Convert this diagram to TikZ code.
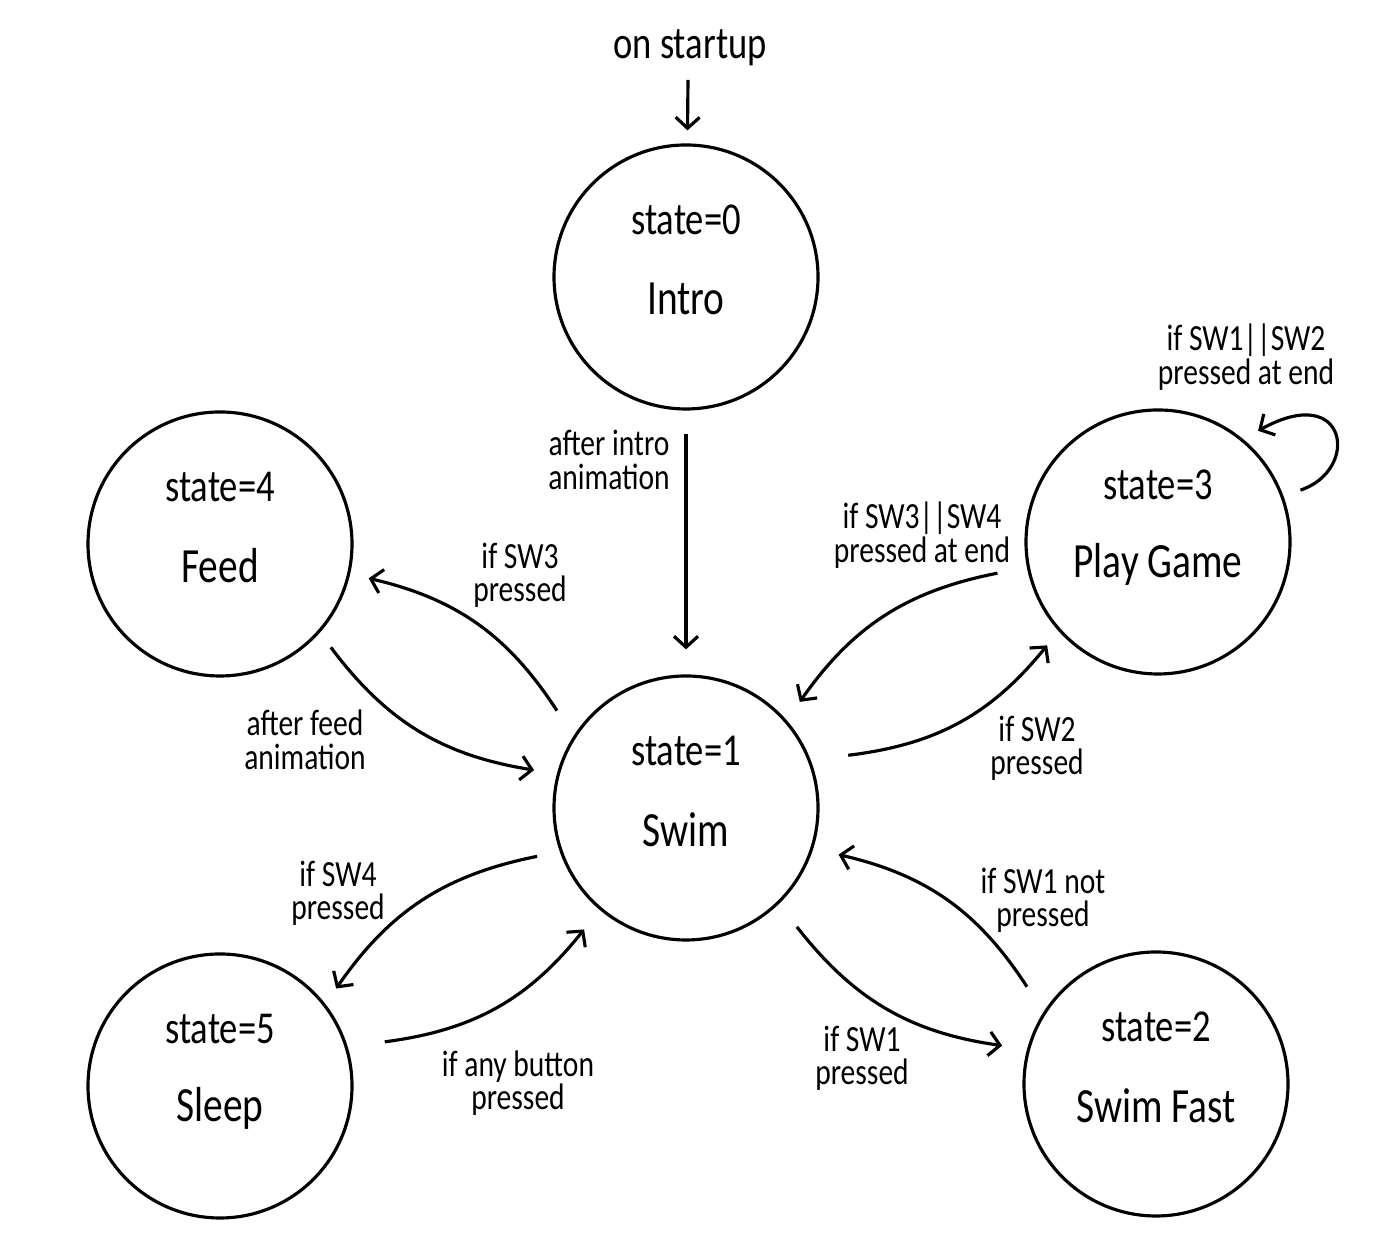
\documentclass[tikz,border=0pt]{standalone}
\usepackage{fontspec}
\setmainfont{Carlito}[FakeStretch=0.8]
\usetikzlibrary{arrows.meta}

\begin{document}
\begin{tikzpicture}[
    fsm/.style={circle, draw, line width=0.9pt, minimum size=2.64cm, inner sep=0pt},
    tr/.style={line width=0.9pt, -{Straight Barb[length=1.1mm, width=2.4mm]}},
    lbl/.style={align=center, inner sep=0pt, font=\fontsize{10.5}{9.5}\selectfont},
    num/.style={font=\fontsize{13}{13}\selectfont},
    big/.style={font=\fontsize{14}{14}\selectfont}
]
    \useasboundingbox (0,0) rectangle (13.77,12.54);

    % the six states
    \node[fsm] (intro) at (6.86,9.77) {};
    \node[fsm] (feed)  at (2.20,7.10) {};
    \node[fsm] (play)  at (11.58,7.12) {};
    \node[fsm] (swim)  at (6.86,4.46) {};
    \node[fsm] (sleep) at (2.20,1.68) {};
    \node[fsm] (fast)  at (11.56,1.70) {};

    \foreach \s/\n/\t in {intro/0/Intro, feed/4/Feed, play/3/Play Game,
                          swim/1/Swim, sleep/5/Sleep, fast/2/Swim Fast}
    {
        \node[num] (\s-num)  at ([yshift=0.57cm]\s) {state=\n};
        \node[big] (\s-name) at ([yshift=-0.22cm]\s) {\t};
    }

    % entry
    \node[lbl, font=\fontsize{13}{13}\selectfont] (boot) at (6.90,12.06) {on startup};
    \coordinate (bootend) at (6.88,11.74);
    \draw[tr, shorten >=0.13cm] (bootend) -- (intro);

    % intro -> swim
    \draw[tr, shorten <=0.23cm, shorten >=0.25cm] (intro) -- (swim);
    \node[lbl] (l-intro) at (6.09,7.94) {after intro\\animation};

    % swim <-> feed
    \draw[tr, bend right=22] ([shift={(143:0.28)}]swim.143) to ([shift={(-13:0.19)}]feed.-13);
    \node[lbl] (l-sw3) at (5.20,6.79) {if SW3\\pressed};
    \draw[tr, bend right=22] ([shift={(-43:0.18)}]feed.-43) to ([shift={(166:0.23)}]swim.166);
    \node[lbl] (l-feed) at (3.05,5.14) {after feed\\animation};

    % swim <-> play
    \draw[tr, bend right=22] ([shift={(191:0.30)}]play.191) to ([shift={(43:0.22)}]swim.43);
    \node[lbl] (l-sw34) at (9.22,7.19) {if SW3||SW4\\pressed at end};
    \draw[tr, bend right=22] ([shift={(18:0.37)}]swim.18) to ([shift={(223:0.18)}]play.223);
    \node[lbl] (l-sw2) at (10.37,5.06) {if SW2\\pressed};

    % play game again
    \draw[tr] ([shift={(20:0.18)}]play.20) .. controls +(0.6,0.2) and +(0.9,0.5) .. ([shift={(48:0.16)}]play.48);
    \node[lbl] (l-sw12) at (12.46,8.97) {if SW1||SW2\\pressed at end};

    % swim <-> sleep
    \draw[tr, bend right=22] ([shift={(198:0.23)}]swim.198) to ([shift={(40:0.18)}]sleep.40);
    \node[lbl] (l-sw4) at (3.38,3.61) {if SW4\\pressed};
    \draw[tr, bend right=22] ([shift={(15:0.37)}]sleep.15) to ([shift={(230:0.25)}]swim.230);
    \node[lbl] (l-any) at (5.18,1.71) {if any button\\pressed};

    % swim <-> swim fast
    \draw[tr, bend right=22] ([shift={(143:0.28)}]fast.143) to ([shift={(-17:0.26)}]swim.-17);
    \node[lbl] (l-not) at (10.43,3.54) {if SW1 not\\pressed};
    \draw[tr, bend right=22] ([shift={(-47:0.29)}]swim.-47) to ([shift={(166:0.25)}]fast.166);
    \node[lbl] (l-sw1) at (8.62,1.96) {if SW1\\pressed};

\end{tikzpicture}
\end{document}
